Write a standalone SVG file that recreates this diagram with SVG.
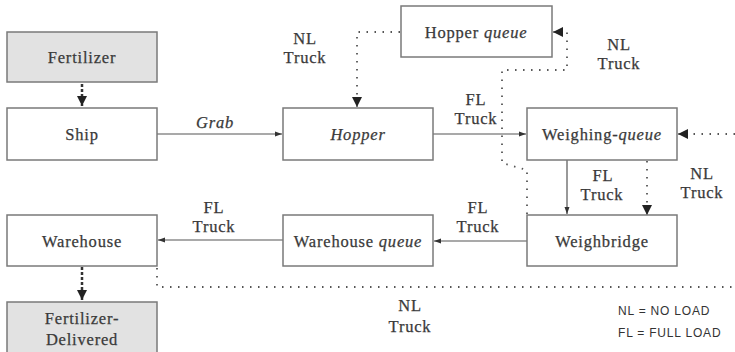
<svg xmlns="http://www.w3.org/2000/svg" width="735" height="352" viewBox="0 0 735 352">
<defs>
<style>
.box{fill:#fff;stroke:#7a7a7a;stroke-width:1.5}
.gray{fill:#e2e2e2;stroke:#7a7a7a;stroke-width:1.5}
.t,.lbl{font-family:"Liberation Serif",serif;font-size:16.5px;letter-spacing:0.8px;fill:#3a3a3a;stroke:#3a3a3a;stroke-width:0.25;text-anchor:middle}
.it{font-style:italic}
.solid{stroke:#555;stroke-width:1.2;fill:none}
.dot{stroke:#555;stroke-width:1.8;fill:none;stroke-dasharray:1.5,6.5}
.thick{stroke:#333;stroke-width:2.5;fill:none;stroke-dasharray:3,2}
.leg{font-family:"Liberation Sans",sans-serif;font-size:12px;letter-spacing:0.8px;fill:#333}
</style>
<marker id="a" markerWidth="8" markerHeight="8" refX="7" refY="4" orient="auto" markerUnits="userSpaceOnUse">
<path d="M0,1.5 L7,4 L0,6.5 z" fill="#333"/>
</marker>
<marker id="b" markerWidth="12" markerHeight="12" refX="10" refY="6" orient="auto" markerUnits="userSpaceOnUse">
<path d="M0,1 L10,6 L0,11 z" fill="#222"/>
</marker>
</defs>
<g id="connectors">
<line class="thick" x1="82" y1="84" x2="82" y2="106" marker-end="url(#b)"/>
<line class="solid" x1="157" y1="134" x2="282" y2="134" marker-end="url(#a)"/>
<polyline class="dot" points="400,32 357,32 357,105"/>
<line x1="357" y1="98" x2="357" y2="107" stroke="#222" stroke-width="1" marker-end="url(#b)"/>
<line class="solid" x1="433" y1="134" x2="526" y2="134" marker-end="url(#a)"/>
<polyline class="dot" points="527,214 527,170 502,163 502,70 567,70 567,32 560,32"/>
<line x1="562" y1="32" x2="553" y2="32" stroke="#222" stroke-width="1" marker-end="url(#b)"/>
<line class="dot" x1="735" y1="134" x2="685" y2="134"/>
<line x1="686" y1="134" x2="678" y2="134" stroke="#222" stroke-width="1" marker-end="url(#b)"/>
<line class="solid" x1="567" y1="160" x2="567" y2="214" marker-end="url(#a)"/>
<line class="dot" x1="647" y1="161" x2="647" y2="206"/>
<line x1="647" y1="205" x2="647" y2="215" stroke="#222" stroke-width="1" marker-end="url(#b)"/>
<line class="solid" x1="527" y1="241" x2="434" y2="241" marker-end="url(#a)"/>
<line class="solid" x1="283" y1="240" x2="158" y2="240" marker-end="url(#a)"/>
<line class="thick" x1="82" y1="267" x2="82" y2="300" marker-end="url(#b)"/>
<polyline class="dot" points="157,268 157,287 735,287"/>
</g>
<g id="fertilizer"><rect class="gray" x="7" y="32" width="150" height="50"/><text class="t" x="82" y="63">Fertilizer</text></g>
<g id="ship"><rect class="box" x="7" y="108" width="150" height="52"/><text class="t" x="82" y="140">Ship</text></g>
<g id="hopper"><rect class="box" x="283" y="108" width="150" height="52"/><text class="t it" x="358" y="140">Hopper</text></g>
<g id="hopper-queue"><rect class="box" x="401" y="6" width="151" height="51"/><text class="t" x="476" y="38">Hopper <tspan class="it">queue</tspan></text></g>
<g id="weighing-queue"><rect class="box" x="527" y="108" width="150" height="52"/><text class="t" x="602" y="140">Weighing-<tspan class="it">queue</tspan></text></g>
<g id="weighbridge"><rect class="box" x="527" y="215" width="150" height="51"/><text class="t" x="602" y="247">Weighbridge</text></g>
<g id="warehouse-queue"><rect class="box" x="283" y="215" width="150" height="51"/><text class="t" x="358" y="247">Warehouse <tspan class="it">queue</tspan></text></g>
<g id="warehouse"><rect class="box" x="7" y="215" width="150" height="51"/><text class="t" x="82" y="247">Warehouse</text></g>
<g id="fertilizer-delivered"><rect class="gray" x="7" y="302" width="150" height="56"/><text class="t" x="82" y="324">Fertilizer-</text><text class="t" x="82" y="345">Delivered</text></g>
<g id="labels">
<text class="lbl it" x="215" y="128">Grab</text>
<text class="lbl" x="305" y="44">NL</text><text class="lbl" x="305" y="63">Truck</text>
<text class="lbl" x="619" y="50">NL</text><text class="lbl" x="619" y="69">Truck</text>
<text class="lbl" x="476" y="105">FL</text><text class="lbl" x="476" y="124">Truck</text>
<text class="lbl" x="603" y="181">FL</text><text class="lbl" x="602" y="200">Truck</text>
<text class="lbl" x="702" y="179">NL</text><text class="lbl" x="702" y="198">Truck</text>
<text class="lbl" x="478" y="213">FL</text><text class="lbl" x="478" y="232">Truck</text>
<text class="lbl" x="214" y="213">FL</text><text class="lbl" x="214" y="232">Truck</text>
<text class="lbl" x="410" y="311">NL</text><text class="lbl" x="410" y="332">Truck</text>
<text class="leg" x="618" y="315">NL = NO LOAD</text>
<text class="leg" x="618" y="337">FL =  FULL LOAD</text>
</g>
</svg>
